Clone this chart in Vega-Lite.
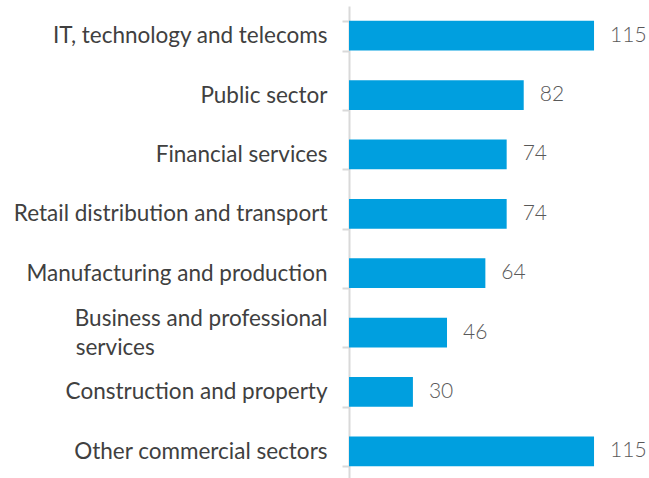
{
  "$schema": "https://vega.github.io/schema/vega-lite/v6.json",
  "autosize": "none",
  "width": 300,
  "height": 475,
  "padding": {"left": 349, "top": 6, "right": 0, "bottom": 0},
  "background": "white",
  "data": {
    "values": [
      {"sector": "IT, technology and telecoms", "count": 115},
      {"sector": "Public sector", "count": 82},
      {"sector": "Financial services", "count": 74},
      {"sector": "Retail distribution and transport", "count": 74},
      {"sector": "Manufacturing and production", "count": 64},
      {"sector": "Business and professional services", "count": 46},
      {"sector": "Construction and property", "count": 30},
      {"sector": "Other commercial sectors", "count": 115}
    ]
  },
  "encoding": {
    "y": {
      "field": "sector",
      "type": "nominal",
      "sort": null,
      "scale": {"paddingInner": 0.5, "paddingOuter": 0.25},
      "axis": {
        "title": null,
        "domainColor": "#d9d9d9",
        "domainWidth": 2,
        "tickColor": "#d9d9d9",
        "tickWidth": 2,
        "tickSize": 7,
        "tickBand": "extent",
        "labelPadding": 15,
        "labelFont": "Lato",
        "labelFontSize": 22.5,
        "labelColor": "#404040",
        "labelLimit": 400,
        "labelLineHeight": 29,
        "labelOffset": {"condition": {"test": "datum.value == 'Business and professional services'", "value": -14.5}, "value": 0},
        "labelExpr": "datum.value == 'Business and professional services' ? ['Business and professional', 'services\u00a0\u00a0\u00a0\u00a0\u00a0\u00a0\u00a0\u00a0\u00a0\u00a0\u00a0\u00a0\u00a0\u00a0\u00a0\u00a0\u00a0\u00a0\u00a0\u00a0\u00a0\u00a0\u00a0\u00a0\u00a0\u00a0\u00a0\u00a0\u00a0\u00a0\u200b'] : datum.value"
      }
    },
    "x": {
      "field": "count",
      "type": "quantitative",
      "scale": {"domain": [0, 140.8], "nice": false},
      "axis": null
    }
  },
  "layer": [
    {"mark": {"type": "bar", "color": "#009FDF"}},
    {
      "mark": {"type": "text", "align": "left", "baseline": "middle", "dx": 16, "font": "Lato", "fontSize": 21, "fontWeight": 300, "color": "#595959"},
      "encoding": {"text": {"field": "count", "type": "quantitative"}}
    }
  ],
  "config": {"view": {"stroke": null}}
}
